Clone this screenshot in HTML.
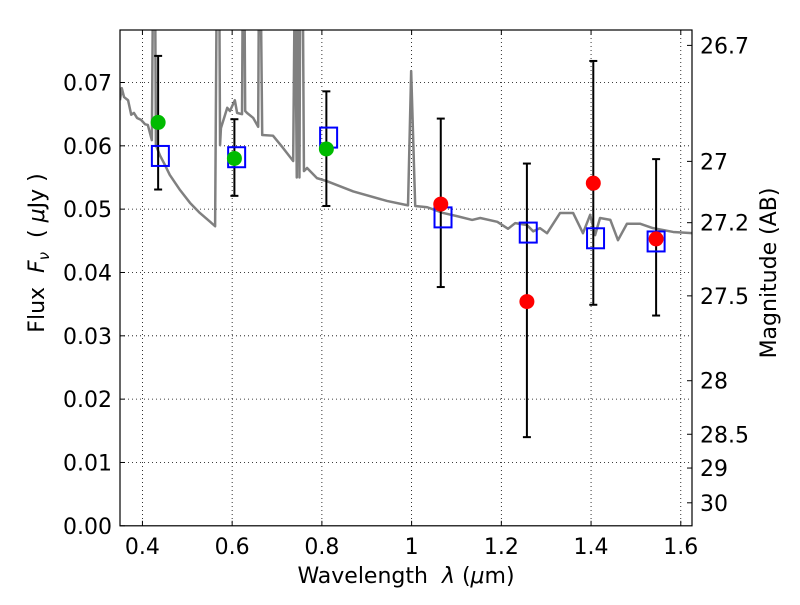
<!DOCTYPE html>
<html><head><meta charset="utf-8"><style>
html,body{margin:0;padding:0;background:#fff;}
svg text{font-family:"DejaVu Sans","Liberation Sans",sans-serif;fill:#000;white-space:pre;}
</style></head><body>
<svg id="chart" width="800" height="600" viewBox="0 0 800 600" xmlns="http://www.w3.org/2000/svg">
<rect x="0" y="0" width="800" height="600" fill="#fff"/>
<defs><clipPath id="plotclip"><rect x="120" y="30" width="572" height="495.8"/></clipPath></defs>
<g id="grid"></g>
<g id="spec" clip-path="url(#plotclip)"></g>
<g id="marks"></g>
<rect x="120" y="30" width="572" height="495.8" fill="none" stroke="#000" stroke-width="1.2"/>
<g id="axes"></g>
<text x="406" y="583" font-size="22" text-anchor="middle">Wavelength  <tspan font-style="italic">λ</tspan> (<tspan font-style="italic">μ</tspan>m)</text>
<text transform="translate(44,253) rotate(-90)" font-size="22" text-anchor="middle">Flux  <tspan font-style="italic">F</tspan><tspan font-style="italic" font-size="15" dy="5">ν</tspan><tspan dy="-5">  ( </tspan><tspan font-style="italic">μ</tspan>Jy )</text>
<text transform="translate(776,273) rotate(-90)" font-size="22" text-anchor="middle">Magnitude (AB)</text>
</svg>
<script>
const xTicks=[0.4,0.6,0.8,1,1.2,1.4,1.6];
const xTickLabels=["0.4","0.6","0.8","1","1.2","1.4","1.6"];
const yTicks=[0,0.01,0.02,0.03,0.04,0.05,0.06,0.07];
const yTickLabels=["0.00","0.01","0.02","0.03","0.04","0.05","0.06","0.07"];
const magTicks=[26.7,27,27.2,27.5,28,28.5,29,30];
const magTickLabels=["26.7","27","27.2","27.5","28","28.5","29","30"];
const specWave=[0.350,0.354,0.359,0.368,0.375,0.381,0.388,0.397,0.406,0.412,0.421,0.424,0.428,0.430,0.439,0.450,0.461,0.484,0.506,0.528,0.551,0.562,0.566,0.571,0.573,0.575,0.589,0.595,0.606,0.611,0.622,0.624,0.627,0.629,0.633,0.647,0.658,0.660,0.663,0.667,0.691,0.713,0.736,0.740,0.744,0.746,0.750,0.752,0.757,0.760,0.767,0.789,0.812,0.870,0.945,0.992,0.999,1.008,1.035,1.070,1.101,1.135,1.153,1.191,1.215,1.231,1.257,1.271,1.286,1.302,1.331,1.360,1.382,1.398,1.409,1.420,1.443,1.460,1.480,1.509,1.538,1.583,1.628];
const specFlux=[0.0672,0.0691,0.0677,0.0672,0.0649,0.0652,0.0644,0.0641,0.0634,0.0633,0.0609,0.09,0.09,0.0601,0.0585,0.0570,0.0554,0.0530,0.0510,0.0494,0.0480,0.0473,0.09,0.09,0.0601,0.0628,0.0660,0.0655,0.0672,0.0652,0.0650,0.09,0.09,0.0655,0.0652,0.0644,0.0630,0.09,0.09,0.0617,0.0616,0.0597,0.0576,0.09,0.0550,0.09,0.0550,0.09,0.09,0.0560,0.0565,0.0549,0.0544,0.0528,0.0513,0.0506,0.0718,0.0505,0.0503,0.0494,0.0489,0.0483,0.0486,0.0480,0.0469,0.0478,0.0475,0.0465,0.0470,0.0462,0.0494,0.0494,0.0462,0.0491,0.0459,0.0486,0.0483,0.0451,0.0477,0.0477,0.0470,0.0464,0.0462];
const modelWave=[0.44,0.61,0.815,1.07,1.26,1.41,1.545];
const modelFlux=[0.0584,0.0582,0.0613,0.0487,0.0463,0.0454,0.0449];
const obsWave=[0.435,0.605,0.81,1.065,1.257,1.405,1.545];
const obsFlux=[0.0637,0.0580,0.0595,0.0508,0.0354,0.0541,0.0453];
const obsHigh=[0.0742,0.0642,0.0686,0.0643,0.0572,0.0734,0.0579];
const obsLow=[0.0531,0.0521,0.0505,0.0377,0.0140,0.0349,0.0332];
const obsColor=["#00bb00","#00bb00","#00bb00","#ff0000","#ff0000","#ff0000","#ff0000"];

const X0=120,X1=692,Y0=525.8,Y1=30,xmin=0.35,xmax=1.625,ymin=0,ymax=(525.8-30)/6333;
function sx(v){return X0+(v-xmin)/(xmax-xmin)*(X1-X0);}
function sy(v){return Y0-(v-ymin)/(ymax-ymin)*(Y0-Y1);}
function magToY(m){return sy(Math.pow(10,(23.9-m)/2.5));}
const NS="http://www.w3.org/2000/svg";
function mk(t,a,p){const e=document.createElementNS(NS,t);for(const k in a)e.setAttribute(k,a[k]);p.appendChild(e);return e;}
const grid=document.getElementById('grid'),axes=document.getElementById('axes'),spec=document.getElementById('spec'),marks=document.getElementById('marks');

xTicks.forEach((v,i)=>{const x=sx(v);
 const g=mk('line',{x1:x,x2:x,y1:Y1,y2:Y0,stroke:'#000','stroke-width':0.8,'stroke-dasharray':'1,3'},grid);
 
 
 const t1=mk('line',{x1:x,x2:x,y1:Y0,y2:Y0-5,stroke:'#000'},axes);
 
 
 const t2=mk('line',{x1:x,x2:x,y1:Y1,y2:Y1+5,stroke:'#000'},axes);
 
 
 const l=mk('text',{x:x,y:554,'font-size':22,'text-anchor':'middle'},axes);l.textContent=xTickLabels[i];
 
 
});
yTicks.forEach((v,i)=>{const y=sy(v);
 if(i>0){const g=mk('line',{x1:X0,x2:X1,y1:y,y2:y,stroke:'#000','stroke-width':0.8,'stroke-dasharray':'1,3'},grid);
 
 }
 const t=mk('line',{x1:X0,x2:X0+5,y1:y,y2:y,stroke:'#000'},axes);
 
 
 const l=mk('text',{x:112,y:y+8,'font-size':22,'text-anchor':'end'},axes);l.textContent=yTickLabels[i];
 
 
});
magTicks.forEach((m,i)=>{const y=magToY(m);
 const t=mk('line',{x1:X1,x2:X1-5,y1:y,y2:y,stroke:'#000'},axes);
 
 
 const l=mk('text',{x:700,y:y+8,'font-size':22},axes);l.textContent=magTickLabels[i];
 
 
});
const pl=mk('polyline',{points:specWave.map((w,i)=>sx(w)+','+sy(specFlux[i])).join(' '),fill:'none',stroke:'#808080','stroke-width':2.5,'stroke-linejoin':'round'},spec);


obsWave.forEach((w,i)=>{const x=sx(w);
 const e=mk('line',{x1:x,x2:x,y1:sy(obsHigh[i]),y2:sy(obsLow[i]),stroke:'#000','stroke-width':2},marks);
 
 
 [obsHigh[i],obsLow[i]].forEach(v=>{const c=mk('line',{x1:x-4,x2:x+4,y1:sy(v),y2:sy(v),stroke:'#000','stroke-width':2},marks);
  
  });
});
modelWave.forEach((w,i)=>{const r=mk('rect',{x:sx(w)-8.5,y:sy(modelFlux[i])-10,width:17,height:20,fill:'none',stroke:'#0000ff','stroke-width':2},marks);
 
 
});
obsWave.forEach((w,i)=>{const c=mk('circle',{cx:sx(w),cy:sy(obsFlux[i]),r:7.5,fill:obsColor[i]},marks);
 
 
});
</script>
</body></html>
